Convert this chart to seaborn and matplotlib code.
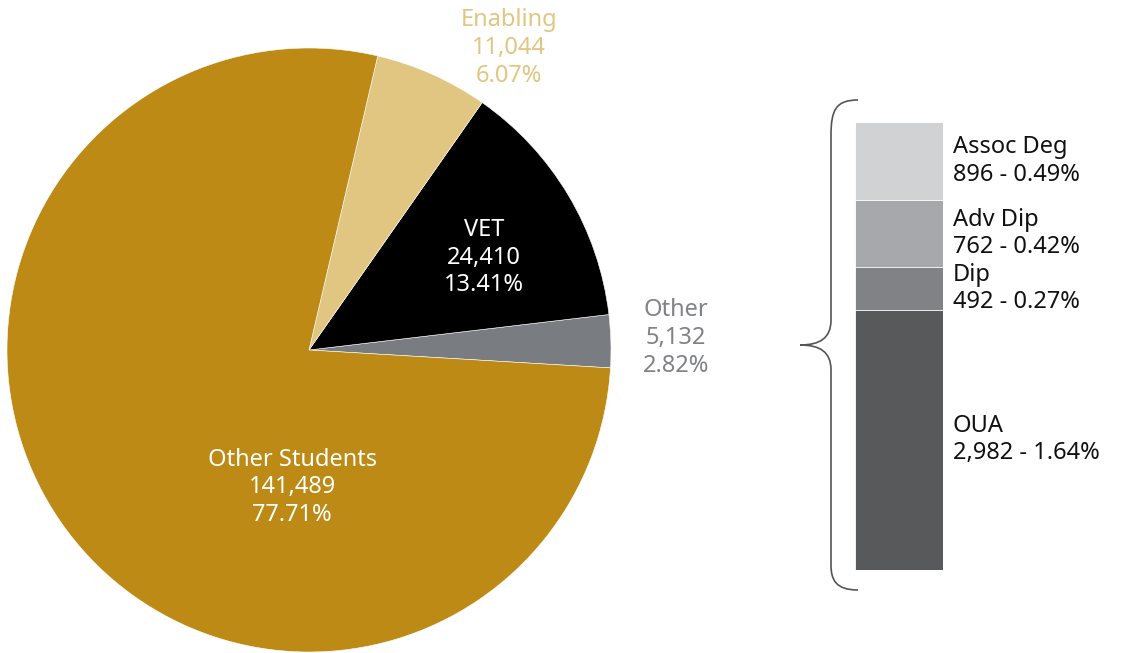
import matplotlib
matplotlib.use("Agg")
import matplotlib.pyplot as plt
import seaborn as sns
import pandas as pd
import numpy as np
from matplotlib.path import Path
from matplotlib.patches import PathPatch
from matplotlib.transforms import Affine2D

sns.set_theme(style="white")
plt.rcParams['font.family'] = ['Noto Sans', 'DejaVu Sans']

# ---- data ----
pie_labels = ["Other", "VET", "Enabling", "Other Students"]
pie_values = [5132, 24410, 11044, 141489]
pie_pcts = ["2.82%", "13.41%", "6.07%", "77.71%"]
pie_colors = ["#797c80", "#000000", "#e1c682", "#bc8a15"]
pie_text_colors = ["#808285", "#ffffff", "#e1c682", "#ffffff"]

bar_labels = ["OUA", "Dip", "Adv Dip", "Assoc Deg"]
bar_values = [2982, 492, 762, 896]
bar_pcts = ["1.64%", "0.27%", "0.42%", "0.49%"]
bar_colors = ["#58595b", "#808285", "#a7a8ab", "#d1d2d4"]

W, H = 1122, 653
fig = plt.figure(figsize=(W / 100, H / 100), dpi=100)

# ---- pie ----
cx, cy, R = 309, 350, 302
axp = fig.add_axes([(cx - R) / W, (H - cy - R) / H, 2 * R / W, 2 * R / H])
wedges, _ = axp.pie(pie_values, colors=pie_colors, startangle=-3.4,
                    counterclock=True, radius=1,
                    wedgeprops=dict(linewidth=0.4, edgecolor="white"))
axp.set_xlim(-1, 1)
axp.set_ylim(-1, 1)
axp.set_aspect("equal")
axp.axis("off")

label_pos = {"Other": (1.215, 0.04), "VET": (0.58, 0.305),
             "Enabling": (0.662, 1.0), "Other Students": (-0.056, -0.454)}
for lab, v, p, tc in zip(pie_labels, pie_values, pie_pcts, pie_text_colors):
    x, y = label_pos[lab]
    axp.text(x, y, f"{lab}\n{v:,}\n{p}", ha="center", va="center",
             color=tc, fontsize=17, linespacing=1.2, clip_on=False)

# ---- stacked bar ----
bx0, bx1, by0, by1 = 855, 943, 122, 570
axb = fig.add_axes([bx0 / W, (H - by1) / H, (bx1 - bx0) / W, (by1 - by0) / H])
cum = np.cumsum(bar_values)
df = pd.DataFrame({"cat": ["x"] * len(bar_labels), "cum": cum, "lab": bar_labels})
for i in range(len(bar_labels) - 1, -1, -1):
    sns.barplot(data=df.iloc[[i]], x="cat", y="cum", color=bar_colors[i],
                width=1.0, ax=axb, saturation=1, edgecolor="white", linewidth=0.6)
axb.set_xlim(-0.5, 0.5)
axb.set_ylim(0, cum[-1])
axb.axis("off")
bottoms = np.concatenate([[0], cum[:-1]])
for lab, v, p, b in zip(bar_labels, bar_values, bar_pcts, bottoms):
    axb.text(0.61, b + v / 2, f"{lab}\n{v:,} - {p}", ha="left", va="center",
             color="#111111", fontsize=17, linespacing=1.18, clip_on=False)

# ---- brace ----
verts = [(858, 100), (836, 100), (831, 110), (831, 135),
         (831, 320),
         (831, 338), (820, 345), (800, 345),
         (820, 345), (831, 352), (831, 370),
         (831, 565),
         (831, 580), (836, 590), (858, 590)]
codes = [Path.MOVETO, Path.CURVE4, Path.CURVE4, Path.CURVE4,
         Path.LINETO,
         Path.CURVE4, Path.CURVE4, Path.CURVE4,
         Path.CURVE4, Path.CURVE4, Path.CURVE4,
         Path.LINETO,
         Path.CURVE4, Path.CURVE4, Path.CURVE4]
tr = Affine2D().scale(1 / W, -1 / H).translate(0, 1) + fig.transFigure
fig.patches.append(PathPatch(Path(verts, codes), facecolor="none",
                             edgecolor="#555555", linewidth=1.2, transform=tr))

fig.savefig("out.png", dpi=100)
